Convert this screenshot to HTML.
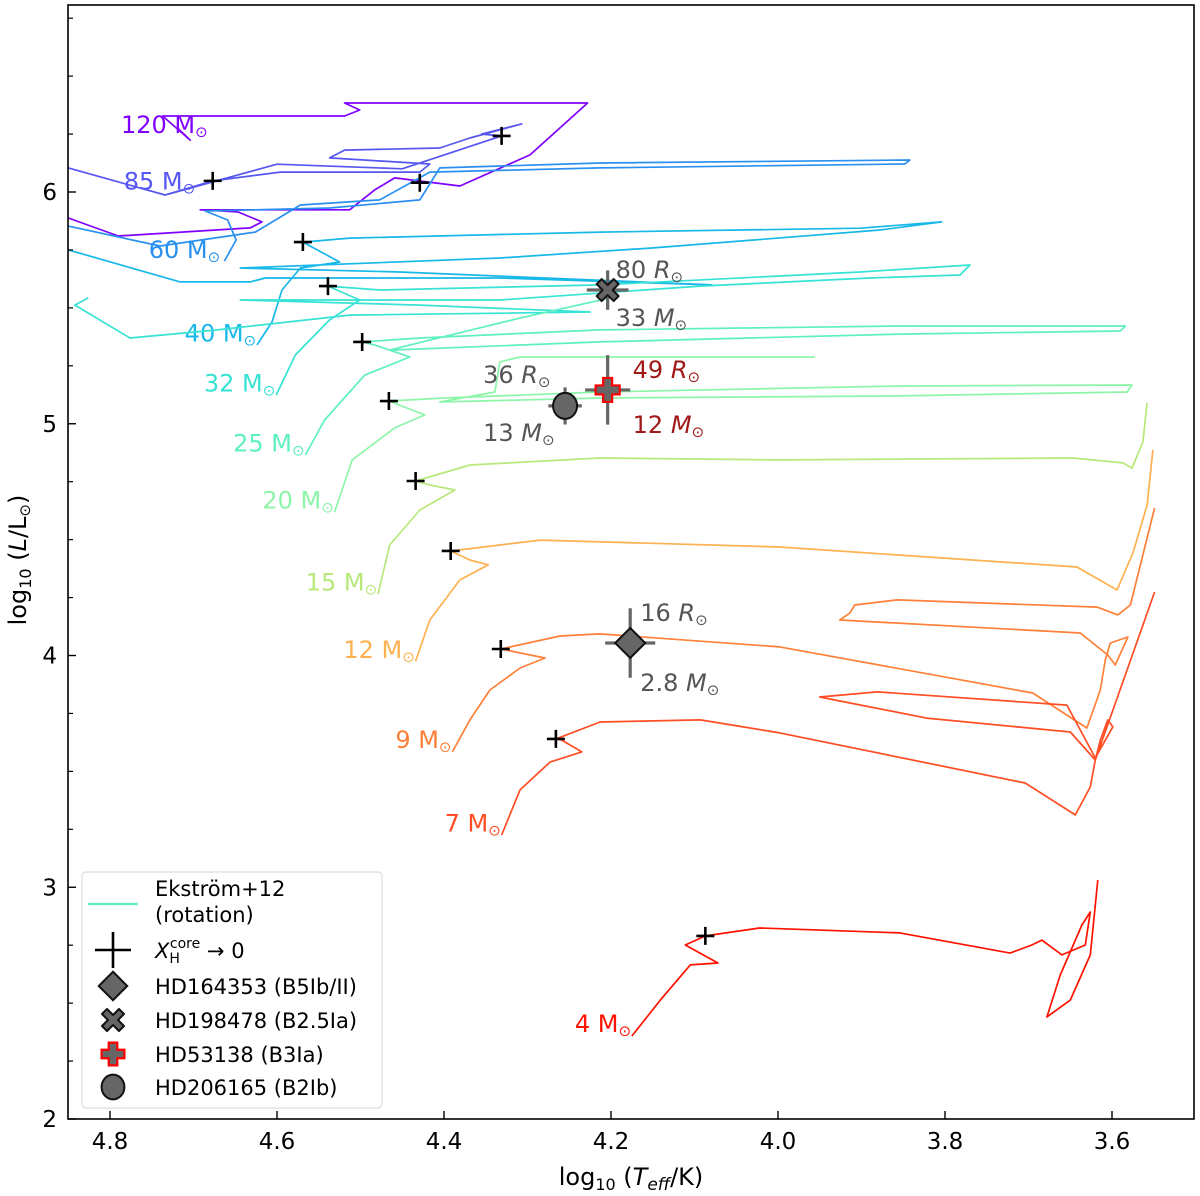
<!DOCTYPE html>
<html><head><meta charset="utf-8">
<style>
html,body{margin:0;padding:0;background:#fff;}
svg{display:block;font-family:"DejaVu Sans","Liberation Sans",sans-serif;}
</style></head>
<body>
<svg id="chart" width="1200" height="1196" viewBox="0 0 1200 1196" xmlns="http://www.w3.org/2000/svg">
<g id="tracks"></g>
<g id="marks"></g>
<g id="axes"></g>
</svg>
<script>
// ---- data ----
const trackMasses = ["120","85","60","40","32","25","20","15","12","9","7","4"];
const trackColors = ["#8000ff","#5656f2","#2a90f0","#18b8e8","#36e3d4","#5ef0c0","#8cf5a8","#b8e87a","#ffb050","#ff8038","#ff4d24","#ff1200"];
const track120 = [[4.719,6.276],[4.704,6.224],[4.737,6.328],[4.519,6.328],[4.501,6.354],[4.519,6.384],[4.228,6.384],[4.297,6.160],[4.381,6.026],[4.459,6.061],[4.483,6.009],[4.513,5.923],[4.692,5.923],[4.647,5.914],[4.618,5.871],[4.632,5.845],[4.790,5.810],[4.850,5.888]];
const track85 = [[4.734,5.987],[4.677,6.048],[4.596,6.086],[4.429,6.086],[4.417,6.121],[4.537,6.147],[4.519,6.181],[4.405,6.190],[4.369,6.233],[4.307,6.294],[4.355,6.250],[4.331,6.242],[4.45,6.10],[4.60,6.12],[4.734,5.987],[4.850,6.104]];
const track60 = [[4.663,5.702],[4.649,5.793],[4.659,5.879],[4.686,5.918],[4.537,5.931],[4.429,5.966],[4.405,6.104],[4.213,6.125],[3.842,6.138],[3.848,6.121],[4.213,6.104],[4.417,6.086],[4.477,5.966],[4.572,5.944],[4.626,5.827],[4.740,5.767],[4.850,5.853]];
const track40 = [[4.624,5.340],[4.606,5.439],[4.594,5.577],[4.572,5.672],[4.525,5.698],[4.569,5.784],[4.513,5.801],[4.213,5.827],[3.902,5.844],[3.804,5.871],[3.878,5.836],[4.153,5.758],[4.333,5.715],[4.644,5.672],[4.453,5.655],[4.079,5.599],[4.333,5.629],[4.614,5.629],[4.632,5.612],[4.716,5.612],[4.850,5.750]];
const track32 = [[4.601,5.124],[4.578,5.297],[4.537,5.448],[4.501,5.534],[4.539,5.594],[4.477,5.577],[4.213,5.599],[3.902,5.655],[3.770,5.685],[3.782,5.642],[3.890,5.629],[4.093,5.594],[4.333,5.534],[4.644,5.534],[4.429,5.512],[4.225,5.482],[4.513,5.469],[4.674,5.404],[4.776,5.370],[4.842,5.512],[4.826,5.543]];
const track25 = [[4.566,4.865],[4.543,5.016],[4.495,5.210],[4.441,5.288],[4.483,5.340],[4.498,5.353],[4.429,5.370],[4.213,5.405],[3.854,5.422],[3.584,5.422],[3.590,5.400],[3.854,5.387],[4.213,5.353],[4.465,5.318],[4.417,5.361],[4.309,5.456],[4.201,5.543]];
const track20 = [[4.531,4.619],[4.510,4.844],[4.459,4.982],[4.423,5.038],[4.466,5.098],[4.399,5.111],[4.213,5.137],[3.854,5.163],[3.576,5.167],[3.582,5.137],[3.854,5.120],[4.213,5.111],[4.405,5.094],[4.339,5.137],[4.333,5.267],[4.309,5.288],[3.956,5.288]];
const track15 = [[4.479,4.265],[4.465,4.477],[4.429,4.628],[4.387,4.714],[4.417,4.736],[4.434,4.753],[4.369,4.822],[4.213,4.852],[3.998,4.844],[3.647,4.852],[3.587,4.831],[3.576,4.809],[3.563,4.921],[3.558,5.090]];
const track12 = [[4.434,3.976],[4.417,4.153],[4.381,4.326],[4.347,4.391],[4.369,4.412],[4.392,4.451],[4.285,4.498],[3.998,4.468],[3.642,4.382],[3.594,4.283],[3.575,4.442],[3.558,4.649],[3.551,4.887]];
const track9 = [[4.390,3.584],[4.369,3.722],[4.345,3.851],[4.309,3.946],[4.279,3.989],[4.332,4.028],[4.261,4.084],[4.213,4.093],[3.998,4.037],[3.695,3.838],[3.630,3.687],[3.614,3.851],[3.608,3.981],[3.602,4.054],[3.581,4.080],[3.596,3.959],[3.605,4.002],[3.638,4.097],[3.926,4.153],[3.914,4.183],[3.908,4.218],[3.857,4.240],[3.618,4.209],[3.593,4.175],[3.578,4.218],[3.549,4.637]];
const track7 = [[4.331,3.225],[4.309,3.420],[4.273,3.540],[4.235,3.584],[4.259,3.635],[4.266,3.640],[4.213,3.713],[4.093,3.722],[3.998,3.666],[3.704,3.450],[3.644,3.312],[3.626,3.433],[3.620,3.549],[3.650,3.670],[3.822,3.730],[3.950,3.821],[3.881,3.843],[3.654,3.786],[3.620,3.558],[3.599,3.692],[3.605,3.722],[3.614,3.635],[3.620,3.549],[3.549,4.274]];
const track4 = [[4.175,2.358],[4.141,2.513],[4.105,2.665],[4.072,2.673],[4.111,2.751],[4.087,2.790],[4.022,2.824],[3.854,2.803],[3.722,2.716],[3.696,2.751],[3.684,2.772],[3.660,2.708],[3.632,2.751],[3.626,2.893],[3.636,2.837],[3.662,2.621],[3.678,2.440],[3.650,2.513],[3.626,2.708],[3.617,3.031]];
const tracks = [track120,track85,track60,track40,track32,track25,track20,track15,track12,track9,track7,track4];
// ZAMS label anchor (logT, logL)
const labelT = [4.683,4.698,4.668,4.625,4.602,4.567,4.532,4.480,4.435,4.391,4.332,4.176];
const labelL = [6.255,6.010,5.715,5.355,5.140,4.880,4.635,4.280,3.990,3.600,3.240,2.375];
// core-H exhaustion crosses
const crossT = [4.331,4.677,4.429,4.569,4.539,4.498,4.466,4.434,4.392,4.332,4.266,4.087];
const crossL = [6.242,6.048,6.040,5.784,5.594,5.353,5.098,4.753,4.451,4.028,3.640,2.790];
// observed stars
const starNames = ["HD164353","HD198478","HD53138","HD206165"];
const starT = [4.177,4.204,4.204,4.255];
const starL = [4.054,5.577,5.146,5.077];
const starErrT = [0.030,0.025,0.027,0.020];
const starErrL = [0.150,0.085,0.150,0.080];
const starR = ["16","80","49","36"];
const starM = ["2.8","33","12","13"];
const xTicks = [4.8,4.6,4.4,4.2,4.0,3.8,3.6];
const xTickLabels = ["4.8","4.6","4.4","4.2","4.0","3.8","3.6"];
const yTicks = [2,3,4,5,6];
const yTickLabels = ["2","3","4","5","6"];
const yMinor = [2.25,2.5,2.75,3.25,3.5,3.75,4.25,4.5,4.75,5.25,5.5,5.75,6.25,6.5,6.75];

// ---- scales ----
const NS="http://www.w3.org/2000/svg";
const X0=68,X1=1194,Y0=5,Y1=1119;
function sx(t){return 110+(4.8-t)*835;}
function sy(l){return 1119-(l-2)*231.75;}
function el(tag,attrs,parent){const e=document.createElementNS(NS,tag);for(const k in attrs)e.setAttribute(k,attrs[k]);parent.appendChild(e);return e;}
const svg=document.getElementById('chart');
const gT=document.getElementById('tracks'),gM=document.getElementById('marks'),gA=document.getElementById('axes');
const defs=el('defs',{},svg);
const cp=el('clipPath',{id:'clip'},defs);
el('rect',{x:X0,y:Y0,width:X1-X0,height:Y1-Y0},cp);
gT.setAttribute('clip-path','url(#clip)');

tracks.forEach((tr,i)=>{
  const p=el('polyline',{points:tr.map(d=>sx(d[0]).toFixed(1)+','+sy(d[1]).toFixed(1)).join(' '),fill:'none',stroke:trackColors[i],'stroke-width':1.7,'stroke-linejoin':'round'},gT);
  
  
  const t=el('text',{x:sx(labelT[i]),y:sy(labelL[i]),'text-anchor':'end','font-size':24,fill:trackColors[i]},gT);
  
  
  t.textContent=trackMasses[i]+' M';
  const s=el('tspan',{'font-size':15,dy:4},t); s.textContent='⊙';
});

crossT.forEach((t,i)=>{
  const g=el('g',{},gM);
  
  
  const x=sx(t),y=sy(crossL[i]);
  el('path',{d:`M${x-9},${y}H${x+9}M${x},${y-9}V${y+9}`,stroke:'#000','stroke-width':2.6},g);
});

function marker(kind,x,y,parent,sc){
  sc=sc||1;
  if(kind==0){const r=15*sc;el('path',{d:`M${x},${y-r}L${x+r},${y}L${x},${y+r}L${x-r},${y}Z`,fill:'#666',stroke:'#111','stroke-width':2},parent);}
  else if(kind==1){const a=5*sc,b=11*sc;el('path',{d:`M${x-b+a},${y-b} L${x},${y-a} L${x+b-a},${y-b} L${x+b},${y-b+a} L${x+a},${y} L${x+b},${y+b-a} L${x+b-a},${y+b} L${x},${y+a} L${x-b+a},${y+b} L${x-b},${y+b-a} L${x-a},${y} L${x-b},${y-b+a}Z`,fill:'#666',stroke:'#111','stroke-width':2,'stroke-linejoin':'round'},parent);}
  else if(kind==2){const a=4.5*sc,b=12*sc;el('path',{d:`M${x-a},${y-b}H${x+a}V${y-a}H${x+b}V${y+a}H${x+a}V${y+b}H${x-a}V${y+a}H${x-b}V${y-a}H${x-a}Z`,fill:'#666',stroke:'#f00','stroke-width':2.2},parent);}
  else {el('ellipse',{cx:x,cy:y,rx:12*sc,ry:13*sc,fill:'#666',stroke:'#111','stroke-width':2},parent);}
}
const rCol=['#555','#555','#a01818','#555'];
const rPos=[[10,-22,10,48],[8,-12,8,36],[25,-12,25,43],[-82,-23,-82,35]];
starT.forEach((t,i)=>{
  const g=el('g',{},gM);
  
  
  const x=sx(t),y=sy(starL[i]);
  const ex=starErrT[i]*835,ey=starErrL[i]*231.75;
  el('path',{d:`M${x-ex},${y}H${x+ex}M${x},${y-ey}V${y+ey}`,stroke:'#666','stroke-width':3.2},g);
  marker(i,x,y,g);
  const p=rPos[i];
  const tr=el('text',{x:x+p[0],y:y+p[1],'font-size':24,fill:rCol[i]},g);
  
  
  tr.appendChild(document.createTextNode(starR[i]+' '));
  let q=el('tspan',{'font-style':'italic'},tr);q.textContent='R';
  q=el('tspan',{'font-size':15,dy:4},tr);q.textContent='⊙';
  const tm=el('text',{x:x+p[2],y:y+p[3],'font-size':24,fill:rCol[i]},g);
  
  
  tm.appendChild(document.createTextNode(starM[i]+' '));
  q=el('tspan',{'font-style':'italic'},tm);q.textContent='M';
  q=el('tspan',{'font-size':15,dy:4},tm);q.textContent='⊙';
});

// axes
const fr=el('rect',{x:X0,y:Y0,width:X1-X0,height:Y1-Y0,fill:'none',stroke:'#000','stroke-width':1.6},gA);


xTicks.forEach((t,i)=>{
  const x=sx(t);
  el('line',{x1:x,x2:x,y1:Y1,y2:Y1-8,stroke:'#000','stroke-width':1.4},gA);
  const tx=el('text',{x:x,y:1149,'text-anchor':'middle','font-size':23,fill:'#000'},gA);
  
  
  tx.textContent=xTickLabels[i];
});
yTicks.forEach((l,i)=>{
  const y=sy(l);
  el('line',{x1:X0,x2:X0+8,y1:y,y2:y,stroke:'#000','stroke-width':1.4},gA);
  const ty=el('text',{x:57,y:y+8,'text-anchor':'end','font-size':23,fill:'#000'},gA);
  
  
  ty.textContent=yTickLabels[i];
});
yMinor.forEach(l=>{const y=sy(l);el('line',{x1:X0,x2:X0+5,y1:y,y2:y,stroke:'#000','stroke-width':1.2},gA);});

const xl=el('text',{x:631,y:1185,'text-anchor':'middle','font-size':24,fill:'#000'},gA);


xl.innerHTML='log<tspan font-size="16" dy="5">10</tspan><tspan dy="-5"> (</tspan><tspan font-style="italic">T</tspan><tspan font-style="italic" font-size="17" dy="5">eff</tspan><tspan dy="-5">/K)</tspan>';
const yl=el('text',{x:0,y:0,'text-anchor':'middle','font-size':24,fill:'#000',transform:'translate(26,560) rotate(-90)'},gA);


yl.innerHTML='log<tspan font-size="16" dy="5">10</tspan><tspan dy="-5"> (</tspan><tspan font-style="italic">L</tspan>/L<tspan font-size="15" dy="4">⊙</tspan><tspan dy="-4">)</tspan>';

// legend
const lg=el('g',{},gA);


el('rect',{x:82,y:872,width:300,height:236,rx:4,fill:'#fff','fill-opacity':0.85,stroke:'#ddd','stroke-width':1.2},lg);
el('line',{x1:88,x2:138,y1:904,y2:904,stroke:'#5ef0c0','stroke-width':2.2},lg);
function ltext(y,txt){const t=el('text',{x:155,y:y,'font-size':21,fill:'#000'},lg);t.textContent=txt;return t;}
ltext(896,'Ekström+12');ltext(922,'(rotation)');
el('path',{d:'M95,950H131M113,932V968',stroke:'#000','stroke-width':2.6},lg);
const lx=el('text',{x:155,y:958,'font-size':21,fill:'#000'},lg);


lx.innerHTML='<tspan font-style="italic">X</tspan><tspan font-size="14" dy="5">H</tspan><tspan font-size="14" dx="-10" dy="-15">core</tspan><tspan dy="10"> → 0</tspan>';
const legY=[986,1020,1054,1087];
const legTxt=['HD164353 (B5Ib/II)','HD198478 (B2.5Ia)','HD53138 (B3Ia)','HD206165 (B2Ib)'];
legY.forEach((y,i)=>{marker(i,113,y,lg,i==1?1:0.95);ltext(y+8,legTxt[i]);});
</script>
</body></html>
